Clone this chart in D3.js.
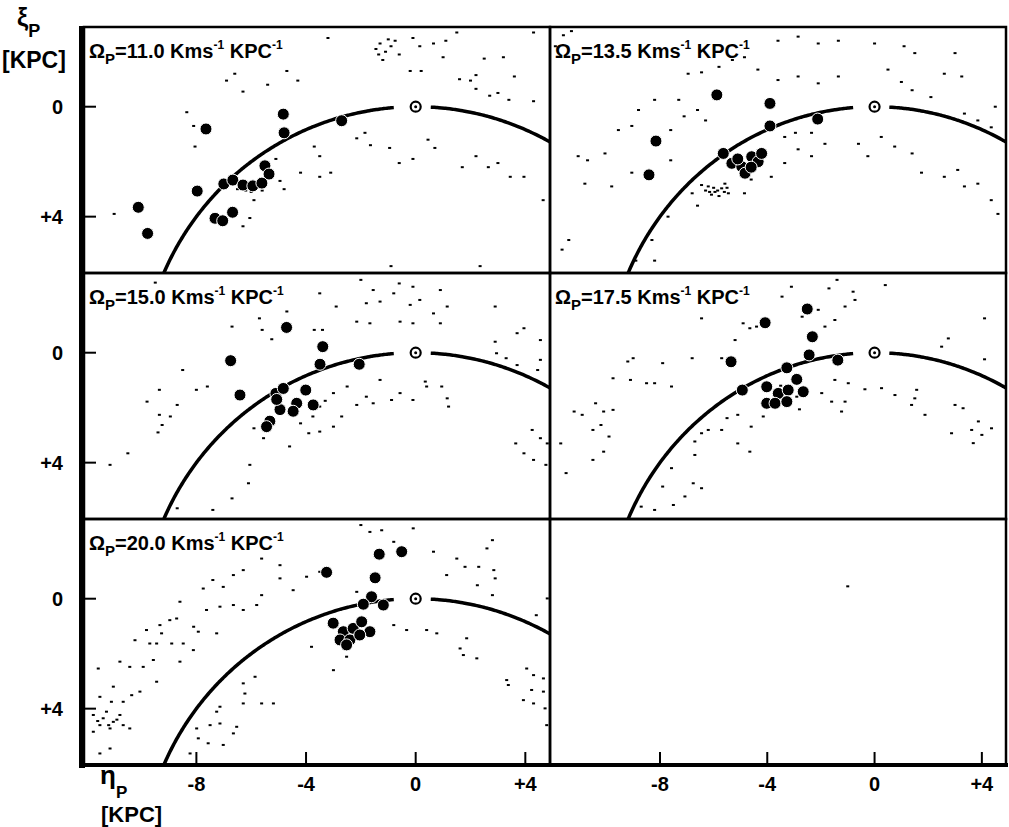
<!DOCTYPE html>
<html>
<head>
<meta charset="utf-8">
<script src="https://cdn.jsdelivr.net/npm/d3@7"></script>
<style>
body { margin: 0; background: #fff; }
text { font-family: "Liberation Sans", Arial, sans-serif; font-weight: bold; fill: #000; }
</style>
</head>
<body>
<div id="chart"></div>
<script>
// pattern speeds, one per panel (last panel is empty)
const omegas = ["11.0", "13.5", "15.0", "17.5", "20.0"];
const xTicks = [-8, -4, 0, 4];
const yTicks = [0, 4];
const R0 = 10; // solar circle radius, kpc

// big dots: [eta, xi] in kpc
const dots11 = [[-4.83,0.27],[-4.80,0.95],[-2.70,0.51],[-7.65,0.81],[-5.50,2.15],[-5.35,2.45],[-7.0,2.81],[-7.97,3.07],[-10.12,3.66],[-9.78,4.61],[-7.32,4.06],[-7.04,4.15],[-6.68,3.84],[-6.67,2.67],[-6.30,2.85],[-5.94,2.88],[-5.61,2.78]];
const dots13 = [[-5.88,-0.43],[-3.90,-0.12],[-3.90,0.70],[-2.12,0.45],[-8.15,1.25],[-8.41,2.48],[-5.64,1.70],[-5.32,2.06],[-4.95,2.18],[-4.58,1.82],[-4.34,2.0],[-4.83,2.42],[-4.21,1.70],[-5.1,1.9],[-4.6,2.2]];
const dots15 = [[-4.71,-0.92],[-3.39,-0.22],[-6.75,0.29],[-3.49,0.42],[-2.06,0.42],[-6.41,1.54],[-5.10,1.48],[-4.83,1.30],[-4.01,1.36],[-4.34,1.84],[-4.95,2.07],[-5.32,2.49],[-3.74,1.90],[-4.47,2.13],[-5.44,2.69],[-5.07,1.70]];
const dots17 = [[-2.51,-1.59],[-4.08,-1.09],[-2.32,-0.58],[-5.35,0.33],[-2.44,0.08],[-1.37,0.27],[-3.27,0.55],[-4.93,1.36],[-2.90,0.97],[-4.02,1.24],[-3.59,1.48],[-3.22,1.36],[-2.66,1.42],[-4.02,1.84],[-3.71,1.84],[-3.27,1.78]];
const dots20 = [[-1.33,-1.62],[-0.51,-1.71],[-3.25,-0.96],[-1.48,-0.76],[-1.61,-0.07],[-1.91,0.20],[-1.18,0.23],[-3.01,0.89],[-2.64,1.20],[-2.28,1.08],[-1.97,0.84],[-1.67,1.20],[-2.76,1.50],[-2.40,1.50],[-2.04,1.32],[-2.52,1.68]];

// stippling (model particles), [eta, xi]
const speck11 = [[-1.3,-2.3],[-1.1,-2.0],[-1.2,-1.7],[-0.75,-2.4],[-0.6,-1.9],[-0.1,-2.5],[0.15,-2.2],[0.65,-2.3],[1.1,-2.4],[1.5,-2.7],[1.0,-1.8],[1.6,-1.0],[2.0,-0.95],[2.2,-1.15],[2.2,-0.65],[2.7,-0.4],[3.0,-0.5],[3.4,-0.25],[3.6,-1.1],[4.3,-0.2],[2.5,-1.75],[3.2,-1.8],[4.3,-2.7],[-0.2,-1.3],[0.2,-1.3],[-3.2,-2.5],[-6.6,-1.2],[-6.9,-0.95],[-6.3,-0.55],[-5.4,-0.8],[-4.7,-1.3],[-4.3,-0.95],[-8.35,0.2],[-8.1,0.7],[-8.05,1.45],[-3.7,1.45],[-3.5,1.8],[-3.1,2.4],[-3.5,2.55],[-2.15,1.15],[-1.85,0.95],[-1.65,1.4],[-0.95,1.5],[-0.6,2.05],[-0.1,1.9],[0.45,1.2],[0.7,1.5],[1.7,2.2],[2.2,1.8],[2.65,2.2],[3.0,2.05],[3.45,2.55],[3.95,2.55],[-4.95,2.7],[-4.8,3.0],[-5.9,3.4],[-6.05,4.05],[-6.3,4.35],[-11.0,3.9],[-4.2,2.4],[-5.1,1.9],[4.65,3.4],[2.35,5.8],[-0.9,5.8],[-1.45,-2.1],[-0.9,-2.2],[-6.5,3.0],[-6.0,3.1],[-5.6,3.05],[-1.35,-1.9],[-1.0,-2.45],[-6.2,3.05],[-5.8,2.95]];
const speck13 = [[-11.55,-2.9],[-11.9,-2.2],[-3.6,-2.4],[-2.85,-2.55],[-2.1,-2.3],[-1.35,-2.4],[0.0,-2.3],[1.1,-2.2],[1.5,-1.95],[3.0,-1.95],[0.5,-1.35],[1.0,-0.9],[2.6,-1.2],[3.25,-1.1],[1.4,-0.6],[2.1,-0.35],[3.35,0.25],[3.85,0.5],[4.35,0.75],[4.5,0.0],[-0.6,1.35],[0.25,1.1],[0.75,1.45],[1.4,1.7],[1.75,2.4],[3.1,2.3],[3.35,2.9],[3.85,2.8],[4.35,3.4],[4.6,3.9],[2.6,2.55],[-0.25,1.8],[-6.95,-1.2],[-6.45,-1.25],[-5.8,-1.45],[-5.3,-1.7],[-4.85,-1.8],[-4.35,-1.35],[-3.6,-0.97],[-2.85,-1.1],[-2.1,-0.85],[-1.35,-1.1],[-8.2,-0.25],[-8.8,0.12],[-7.3,-0.25],[-6.6,0.12],[-6.3,0.5],[-7.1,0.35],[-9.55,0.85],[-9.05,0.7],[-7.6,0.85],[-10.05,1.7],[-10.7,1.95],[-11.05,1.8],[-9.8,2.9],[-10.8,2.8],[-9.05,2.4],[-7.6,1.95],[-6.8,3.15],[-6.6,3.6],[-4.85,3.15],[-4.6,2.65],[-3.85,2.55],[-3.35,2.05],[-2.85,1.55],[-2.35,1.8],[-1.85,1.35],[-3.35,1.1],[-2.95,0.95],[-2.35,0.95],[-7.7,4.0],[-8.3,4.85],[-11.4,4.85],[-11.65,5.2],[-8.9,5.6],[-8.2,5.6],[-6.2,2.9],[-5.95,3.1],[-5.7,2.97],[-5.45,3.15],[-6.08,3.2],[-5.58,2.8],[-6.45,2.85],[-6.3,3.05],[-5.8,3.25],[-6.0,2.95],[-5.85,3.05],[-5.6,3.1],[-6.15,3.1],[-5.5,2.95],[-11.6,-2.6],[-11.3,-2.75]];
const speck15 = [[-9.5,-2.55],[-5.7,-1.25],[-5.6,-0.83],[-6.7,-0.95],[-5.25,-0.49],[-4.7,-1.5],[-3.7,-0.83],[-3.4,-0.83],[-3.5,-2.16],[-2.9,-1.68],[-2.0,-2.65],[-1.55,-2.28],[-1.3,-1.86],[-0.8,-2.16],[-0.6,-2.52],[-0.2,-1.74],[-0.1,-2.4],[0.15,-1.92],[0.65,-1.43],[0.9,-1.07],[1.15,-1.68],[0.9,-2.28],[-0.57,-1.13],[-0.1,-1.07],[-2.15,-1.13],[-1.67,-1.07],[-1.8,-1.8],[2.9,-1.68],[2.9,-0.4],[3.95,-0.89],[3.7,-0.71],[4.55,-0.46],[4.55,0.26],[3.3,0.2],[4.45,0.63],[-8.5,0.63],[-9.35,1.35],[-9.8,1.78],[-9.35,2.26],[-8.95,2.32],[-9.25,2.63],[-9.4,2.9],[-8.7,1.9],[-8.0,1.35],[-7.6,1.23],[-10.5,3.66],[-11.15,4.08],[-3.0,1.47],[-2.5,1.23],[-2.15,1.9],[-1.8,1.6],[-1.55,1.84],[-1.3,0.99],[-0.88,1.72],[-0.57,1.47],[-0.1,1.72],[0.35,1.05],[0.4,1.23],[0.95,1.23],[1.15,1.66],[1.2,1.96],[-2.7,2.32],[-3.0,2.69],[-3.5,2.87],[-3.9,2.93],[-4.6,3.41],[-5.55,3.11],[-5.9,2.75],[-6.05,4.08],[-6.1,4.75],[-6.7,5.3],[-7.4,5.72],[-8.7,5.66],[4.25,2.81],[3.65,3.3],[3.95,3.66],[4.8,3.3],[4.3,3.9],[4.75,4.08],[4.55,3.11],[2.95,0.02],[3.7,0.45],[-3.5,1.96],[-3.75,2.32],[-4.2,2.57],[-4.45,2.2],[-3.3,1.75]];
const speck17 = [[-3.1,-2.4],[-1.7,-2.34],[-1.4,-2.65],[-0.8,-2.22],[-0.73,-1.92],[0.4,-2.46],[-1.1,-1.68],[-1.48,-1.19],[-1.85,-0.95],[-2.1,-1.56],[-2.7,-1.31],[-3.45,-2.04],[-4.9,-1.07],[-4.65,-0.89],[-4.4,-0.95],[-6.45,-1.25],[-5.2,-0.46],[-6.8,0.2],[-5.7,0.2],[-7.9,0.38],[-9.0,0.2],[-9.2,0.32],[-9.75,0.93],[-9.1,0.99],[-8.5,1.11],[-8.2,1.11],[-7.57,1.23],[-11.2,2.14],[-10.9,2.26],[-10.4,1.84],[-10.1,2.14],[-9.75,2.08],[-10.2,2.63],[-10.5,2.81],[-9.9,3.05],[-10.5,3.9],[-10.1,3.6],[-11.5,4.38],[-11.7,3.3],[2.75,-0.52],[2.5,-0.22],[4.1,-1.25],[4.1,0.24],[-1.48,0.99],[-0.98,1.11],[-0.36,1.33],[0.26,1.29],[0.76,1.54],[1.57,1.35],[1.5,1.66],[1.38,1.9],[1.88,2.26],[3.0,1.9],[3.3,2.02],[3.87,2.5],[4.36,2.75],[3.62,2.81],[2.87,2.93],[4.0,2.99],[3.68,3.29],[-1.1,1.78],[-1.23,2.14],[-1.6,1.78],[-1.97,1.47],[-2.8,2.06],[-4.15,2.32],[-4.6,2.69],[-5.1,2.26],[-5.5,2.38],[-6.2,2.81],[-6.45,2.93],[-6.7,3.23],[-6.7,3.72],[-5.7,2.81],[-5.1,3.3],[-4.65,3.6],[-7.57,4.2],[-6.76,4.75],[-6.45,4.93],[-7.9,4.87],[-7.07,5.23],[-7.5,5.54],[-8.7,5.6],[-8.2,5.72],[-2.9,1.6],[-3.5,1.2]];
const speck20 = [[-2.0,-2.68],[-1.67,-2.43],[-1.24,-2.49],[-0.8,-2.07],[-0.09,-2.56],[0.65,-1.71],[1.5,-1.46],[1.8,-1.16],[2.3,-1.16],[2.85,-1.04],[2.6,-1.83],[2.8,-2.13],[2.25,-0.49],[2.9,-0.74],[2.8,-0.13],[1.13,-0.86],[4.8,-0.01],[4.4,0.6],[0.4,1.14],[0.77,1.26],[1.62,1.81],[1.74,2.05],[2.23,2.17],[1.86,1.44],[3.32,2.96],[3.38,3.14],[4.05,2.54],[4.3,2.78],[4.66,2.9],[4.23,3.32],[3.93,3.69],[4.3,3.81],[4.66,3.38],[4.72,3.99],[4.78,4.6],[-3.0,2.6],[-3.8,1.75],[-2.52,2.11],[-0.8,0.96],[-0.33,1.14],[-2.15,-0.25],[-3.5,-0.98],[-3.98,-0.8],[-4.47,-0.31],[-4.95,-1.22],[-4.95,-0.74],[-5.62,-0.13],[-5.62,-1.46],[-5.8,0.23],[-6.29,-1.04],[-6.65,-0.86],[-7.02,-0.43],[-6.65,0.23],[-6.29,0.41],[-7.14,0.29],[-7.63,0.41],[-7.4,-0.68],[-7.75,-0.37],[-8.6,0.11],[-8.1,1.02],[-7.93,1.2],[-7.26,1.26],[-8.72,0.72],[-8.97,0.78],[-9.33,0.96],[-9.82,1.14],[-9.27,1.26],[-10.24,1.51],[-9.7,1.63],[-9.45,1.63],[-8.9,1.63],[-8.48,1.63],[-8.11,1.87],[-8.6,2.29],[-9.57,2.23],[-9.94,2.48],[-10.43,2.48],[-10.79,2.29],[-10.36,3.51],[-10.06,3.38],[-9.45,3.02],[-11.03,3.2],[-11.52,3.57],[-11.1,3.75],[-10.67,3.75],[-11.58,2.54],[-6.29,3.08],[-6.23,3.45],[-6.29,3.81],[-5.62,3.81],[-5.19,3.81],[-5.86,2.84],[-7.14,3.93],[-7.26,4.11],[-7.5,4.6],[-7.99,4.72],[-7.93,5.08],[-7.14,4.54],[-6.53,4.66],[-6.65,4.9],[-7.57,5.26],[-7.02,5.32],[-8.23,5.63],[-11.52,5.63],[-11.15,5.45],[-11.76,4.23],[-11.4,4.35],[-11.03,4.48],[-10.67,4.6],[-10.43,4.72],[-11.52,4.6],[-11.15,4.72],[-10.79,4.23],[-11.76,4.84],[-11.28,4.11],[-11.6,4.45],[-11.2,4.6],[-10.9,4.4]];
const speckEmpty = [[-1.0,-0.45],[-4.7,6.9]];

const panels = [
  { omega: omegas[0], dots: dots11, specks: speck11, col: 0, row: 0 },
  { omega: omegas[1], dots: dots13, specks: speck13, col: 1, row: 0 },
  { omega: omegas[2], dots: dots15, specks: speck15, col: 0, row: 1 },
  { omega: omegas[3], dots: dots17, specks: speck17, col: 1, row: 1 },
  { omega: omegas[4], dots: dots20, specks: speck20, col: 0, row: 2 },
  { omega: null, dots: [], specks: speckEmpty, col: 1, row: 2 }
];

const W = 1009, H = 827;
const cols = [[84, 550], [550, 1006]];
const rows = [[27, 273], [273, 519], [519, 765]];
const xDomain = [-12.1, 4.9];
const yDomain = [-2.9, 6.05];

const svg = d3.select("#chart").append("svg")
  .attr("width", W)
  .attr("height", H);

svg.append("rect").attr("width", W).attr("height", H).attr("fill", "#fff");

const line = d3.line().curve(d3.curveBasis);

panels.forEach(function(p, i) {
  const x = d3.scaleLinear().domain(xDomain).range(cols[p.col]);
  const y = d3.scaleLinear().domain(yDomain).range(rows[p.row]);

  svg.append("clipPath").attr("id", "clip" + i)
    .append("rect")
    .attr("x", cols[p.col][0]).attr("y", rows[p.row][0])
    .attr("width", cols[p.col][1] - cols[p.col][0])
    .attr("height", rows[p.row][1] - rows[p.row][0]);

  const g = svg.append("g").attr("clip-path", "url(#clip" + i + ")");

  // stippling
  g.selectAll(".speck")
    .data(p.specks)
    .enter().append("rect")
    .attr("x", d => x(d[0]) - 1.5)
    .attr("y", d => y(d[1]) - 1)
    .attr("width", 3)
    .attr("height", 2)
    .attr("fill", "#000");

  if (p.omega === null) return;

  // solar circle, broken round the sun
  const seg = [d3.range(-1.3, -0.074, 0.01), d3.range(0.055, 0.8, 0.01)];
  seg.forEach(function(th) {
    g.append("path")
      .attr("d", line(th.map(t => [x(R0 * Math.sin(t)), y(R0 - R0 * Math.cos(t))])))
      .attr("fill", "none")
      .attr("stroke", "#000")
      .attr("stroke-width", 3.5);
  });

  // sun
  g.append("circle")
    .attr("cx", x(0)).attr("cy", y(0)).attr("r", 5)
    .attr("fill", "#fff").attr("stroke", "#000").attr("stroke-width", 2.2);
  g.append("circle")
    .attr("cx", x(0)).attr("cy", y(0)).attr("r", 1.5)
    .attr("fill", "#000");

  // clouds
  g.selectAll(".dot")
    .data(p.dots)
    .enter().append("circle")
    .attr("cx", d => x(d[0]))
    .attr("cy", d => y(d[1]))
    .attr("r", 6)
    .attr("fill", "#000")
    .attr("stroke", "#fff")
    .attr("stroke-width", 1);

  // label
  const lab = svg.append("text")
    .attr("x", cols[p.col][0] + 5)
    .attr("y", rows[p.row][0] + 31)
    .attr("font-size", 20);
  lab.append("tspan").text("Ω");
  lab.append("tspan").attr("font-size", 15).attr("dy", 6).text("P");
  lab.append("tspan").attr("dy", -6).text("=" + p.omega + " Kms");
  lab.append("tspan").attr("font-size", 12).attr("dy", -9).text("-1");
  lab.append("tspan").attr("dy", 9).text(" KPC");
  lab.append("tspan").attr("font-size", 12).attr("dy", -9).text("-1");
});

// panel frames
rows.forEach(function(r) {
  cols.forEach(function(c) {
    svg.append("rect")
      .attr("x", c[0]).attr("y", r[0])
      .attr("width", c[1] - c[0]).attr("height", r[1] - r[0])
      .attr("fill", "none").attr("stroke", "#000").attr("stroke-width", 2.5);
  });
});
svg.append("line").attr("x1", 82).attr("x2", 82).attr("y1", 26).attr("y2", 768)
  .attr("stroke", "#000").attr("stroke-width", 6);
svg.append("line").attr("x1", 80).attr("x2", 1008).attr("y1", 765).attr("y2", 765)
  .attr("stroke", "#000").attr("stroke-width", 4);

// y ticks on the left of each row
rows.forEach(function(r) {
  const y = d3.scaleLinear().domain(yDomain).range(r);
  yTicks.forEach(function(t) {
    svg.append("line")
      .attr("x1", 84).attr("x2", 96).attr("y1", y(t)).attr("y2", y(t))
      .attr("stroke", "#000").attr("stroke-width", 2);
    svg.append("text")
      .attr("x", 63).attr("y", y(t) + 7)
      .attr("text-anchor", "end")
      .attr("font-size", 20)
      .text(t > 0 ? "+" + t : String(t));
  });
});

// x ticks along the bottom of each column
cols.forEach(function(c) {
  const x = d3.scaleLinear().domain(xDomain).range(c);
  xTicks.forEach(function(t) {
    svg.append("line")
      .attr("x1", x(t)).attr("x2", x(t)).attr("y1", 763).attr("y2", 752)
      .attr("stroke", "#000").attr("stroke-width", 2);
    svg.append("text")
      .attr("x", x(t)).attr("y", 791)
      .attr("text-anchor", "middle")
      .attr("font-size", 20)
      .text(t > 0 ? "+" + t : String(t));
  });
});

// axis titles
const yt = svg.append("text").attr("x", 17).attr("y", 26).attr("font-size", 25);
yt.append("tspan").text("ξ");
yt.append("tspan").attr("font-size", 18).attr("dy", 11).text("P");
svg.append("text").attr("x", 2).attr("y", 68).attr("font-size", 23).text("[KPC]");

const xt = svg.append("text").attr("x", 100).attr("y", 784).attr("font-size", 26);
xt.append("tspan").text("η");
xt.append("tspan").attr("font-size", 17).attr("dy", 14).text("P");
svg.append("text").attr("x", 101).attr("y", 822).attr("font-size", 22).text("[KPC]");
</script>
</body>
</html>
